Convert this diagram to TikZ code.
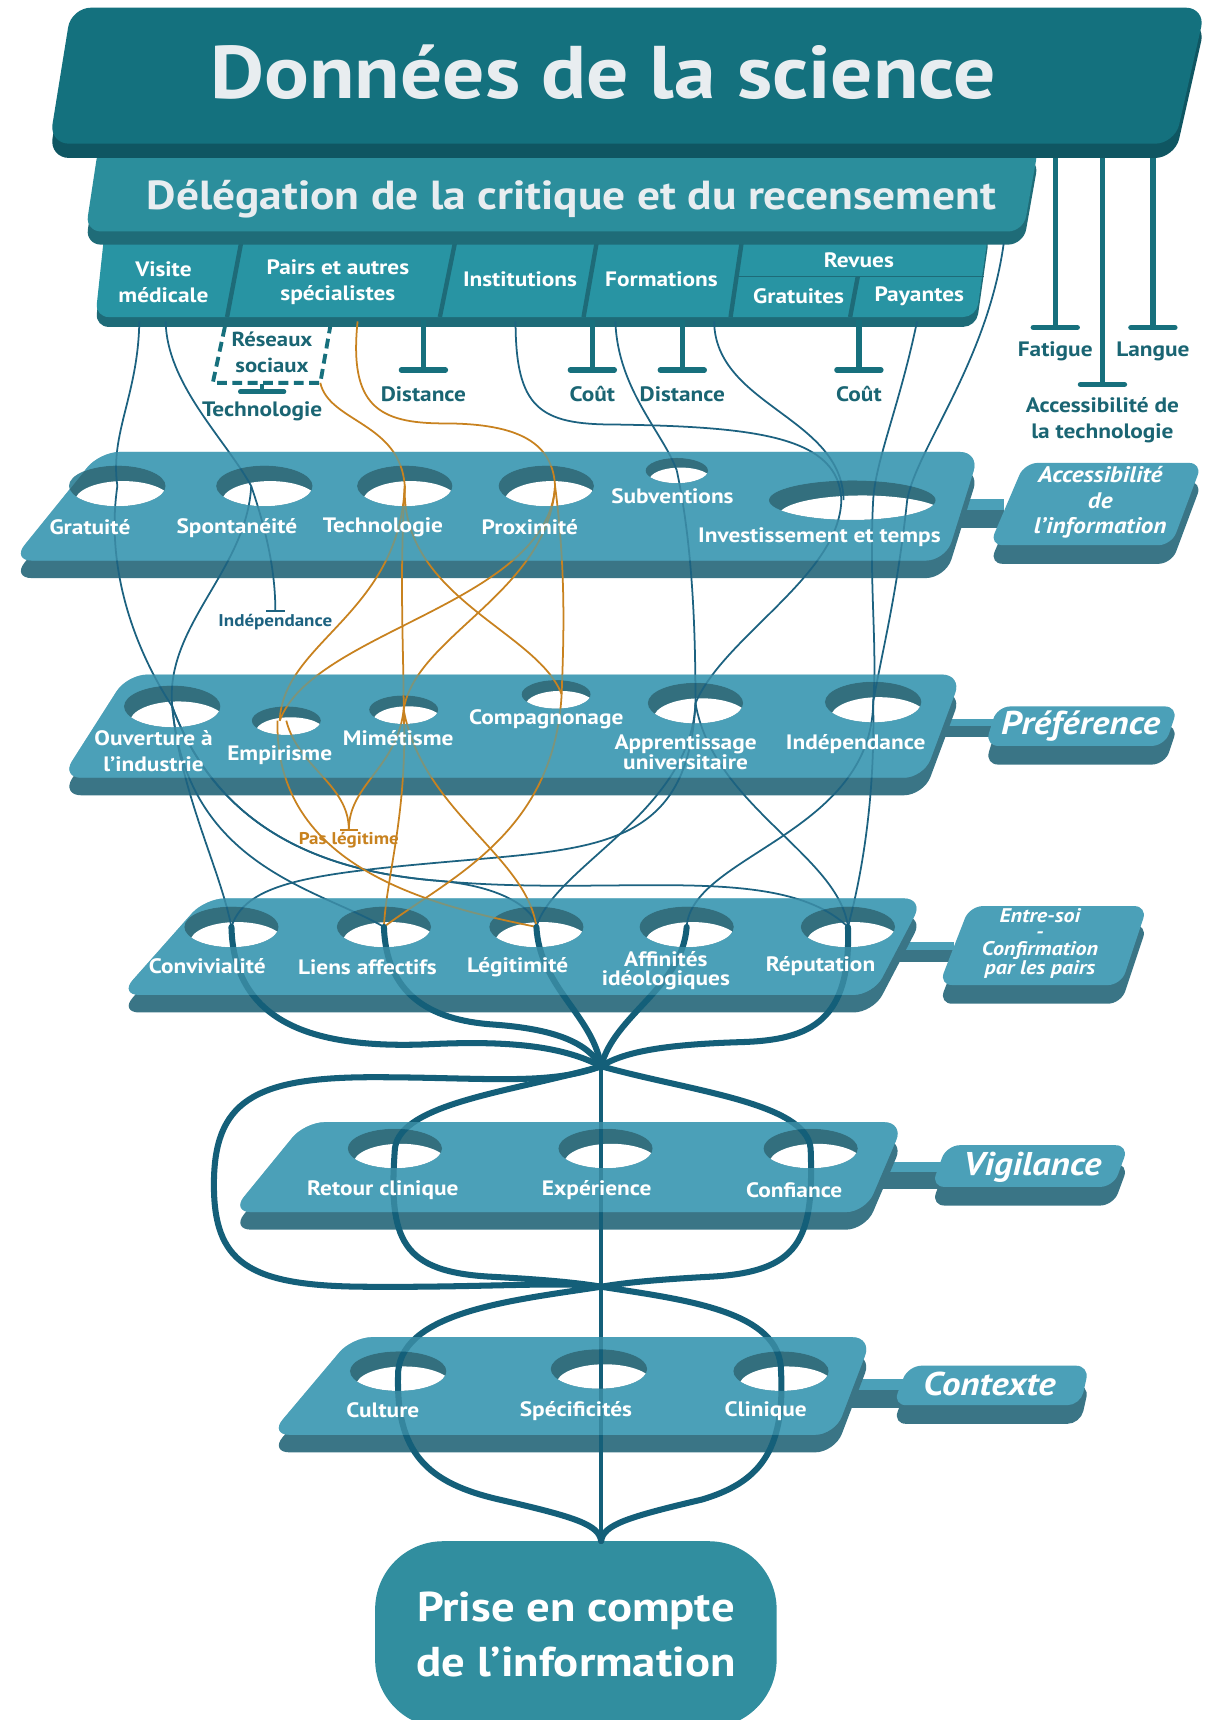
\documentclass[tikz,border=0pt]{standalone}
\usepackage{fontspec}
\setmainfont{PT Sans}[FakeStretch=1.12]
\usetikzlibrary{arrows.meta,shapes.geometric}

\definecolor{darkteal}{HTML}{14717E}
\definecolor{deepteal}{HTML}{0F5662}
\definecolor{midteal}{HTML}{2B8E9C}
\definecolor{middeep}{HTML}{1F6C78}
\definecolor{tabteal}{HTML}{2894A3}
\definecolor{tabdeep}{HTML}{1E6B78}
\definecolor{plateblue}{HTML}{4BA0B8}
\definecolor{platedark}{HTML}{3A7586}
\definecolor{holeblue}{HTML}{336F7E}
\definecolor{linkblue}{HTML}{1C6280}
\definecolor{flowblue}{HTML}{145F79}
\definecolor{amber}{HTML}{C8821F}
\definecolor{barblue}{HTML}{17707D}
\definecolor{labelblue}{HTML}{1A6573}
\definecolor{finalblue}{HTML}{318E9F}
\definecolor{offwhite}{HTML}{E8EDF0}

\tikzset{
  banner/.style={fill=darkteal, rounded corners=18pt},
  bannerbase/.style={fill=deepteal, rounded corners=18pt, yshift=-13pt},
  band/.style={fill=midteal, rounded corners=14pt},
  bandbase/.style={fill=middeep, rounded corners=14pt, yshift=-12pt},
  tabrow/.style={fill=tabteal, rounded corners=12pt},
  tabrowbase/.style={fill=tabdeep, rounded corners=12pt, yshift=-9pt},
  tabsep/.style={draw=tabdeep, line width=4pt},
  tabtext/.style={text=white, font=\bfseries\fontsize{19}{24}\selectfont, align=center, inner sep=0pt},
  plate/.style={fill=plateblue, rounded corners=18pt},
  platebase/.style={fill=platedark, rounded corners=18pt, yshift=-16pt},
  veil/.style={fill=plateblue, opacity=0.6, rounded corners=18pt, even odd rule},
  tag/.style={fill=plateblue, rounded corners=12pt},
  tagbase/.style={fill=platedark, rounded corners=12pt, yshift=-17pt},
  bridge/.style={fill=platedark},
  bridgetop/.style={fill=plateblue},
  hole/.style={ellipse, inner sep=0pt, fill=holeblue},
  platetext/.style={text=white, font=\bfseries\fontsize{19}{17}\selectfont, align=center, inner sep=0pt},
  tagtext/.style={text=white, font=\bfseries\itshape\fontsize{30}{30}\selectfont, align=center, inner sep=0pt},
  barlabel/.style={text=labelblue, font=\bfseries\fontsize{19}{24}\selectfont, align=center, inner sep=0pt},
  smalllabel/.style={font=\bfseries\fontsize{15.5}{15.5}\selectfont, inner sep=0pt},
  barrier/.style={draw=barblue, line width=5pt, -{Bar[width=40pt,round]}},
  link/.style={draw=linkblue, line width=1.6pt},
  amberlink/.style={draw=amber, line width=1.6pt},
  flow/.style={draw=flowblue, line width=5.5pt, line cap=round},
  netbox/.style={draw=barblue, line width=3.5pt, dash pattern=on 9pt off 5pt},
  final/.style={fill=finalblue, text=white, rounded corners=62pt, minimum width=366pt, minimum height=170pt, align=center, font=\bfseries\fontsize{38}{51}\selectfont}
}

\newcommand{\hole}[5]{%
  \node[hole, minimum width=#4pt, minimum height=#5pt] (#1) at (#2,#3) {};
  \begin{scope}
    \clip (#2,#3) ellipse ({#4pt/2} and {#5pt/2});
    \fill[white] (#2+0.06*#4,#3+0.38*#5) ellipse ({#4pt/2} and {#5pt/2});
  \end{scope}}

\begin{document}
\begin{tikzpicture}[x=1pt,y=-1pt]
  \useasboundingbox (0,0) rectangle (1105,1568);
  \fill[white] (0,0) rectangle (1105,1568);

  %Fatigue, langue, accessibilite de la technologie
  \coordinate (fatigue-src) at (962,138);
  \coordinate (acctech-src) at (1005,138);
  \coordinate (langue-src) at (1051,138);
  \node[barlabel] (fatigue) at (962,320) {Fatigue};
  \node[barlabel] (acctech) at (1005,383) {Accessibilité de\\la technologie};
  \node[barlabel] (langue) at (1051,320) {Langue};
  \draw[barrier] (fatigue-src) -- ([yshift=10pt]fatigue.north);
  \draw[barrier] (acctech-src) -- ([yshift=9pt]acctech.north);
  \draw[barrier] (langue-src) -- ([yshift=10pt]langue.north);

  %Onglets des sources
  \fill[tabrowbase] (96,205) -- (902,205) -- (890,289) -- (87,289) -- cycle;
  \fill[tabrow] (96,205) -- (902,205) -- (890,289) -- (87,289) -- cycle;
  \draw[tabsep] (221,215) -- (207,289);
  \draw[tabsep] (416,215) -- (401,289);
  \draw[tabsep] (545,215) -- (532,289);
  \draw[tabsep] (677,215) -- (666,289);
  \draw[tabsep] (782,252) -- (775,289);
  \draw[tabsep, line width=1.5pt] (673,252) -- (897,252);
  \node[tabtext] (visite) at (149,257) {Visite\\médicale};
  \node[tabtext] (pairs) at (308,257) {Pairs et autres\\spécialistes};
  \node[tabtext] (institutions) at (474,255) {Institutions};
  \node[tabtext] (formations) at (603,255) {Formations};
  \node[tabtext] (revues) at (783,237) {Revues};
  \node[tabtext] (gratuites) at (728,270) {Gratuites};
  \node[tabtext] (payantes) at (838,270) {Payantes};

  %Delegation
  \fill[bandbase] (90,132) -- (947,132) -- (933,211) -- (78,211) -- cycle;
  \fill[band] (90,132) -- (947,132) -- (933,211) -- (78,211) -- cycle;
  \node[text=offwhite, font=\bfseries\fontsize{37}{37}\selectfont] (delegation) at (521,182) {Délégation de la critique et du recensement};

  %Donnees de la science
  \fill[bannerbase] (65,7) -- (1099,7) -- (1071,131) -- (45,131) -- cycle;
  \fill[banner] (65,7) -- (1099,7) -- (1071,131) -- (45,131) -- cycle;
  \node[text=offwhite, font=\bfseries\fontsize{68}{68}\selectfont] (title) at (550,66) {Données de la science};

  %Freins sous les onglets
  \coordinate (distanceA-src) at (386,292);
  \coordinate (coutA-src) at (540,292);
  \coordinate (distanceB-src) at (622,292);
  \coordinate (coutB-src) at (783,292);
  \node[barlabel] (distanceA) at (386,359) {Distance};
  \node[barlabel] (coutA) at (540,359) {Coût};
  \node[barlabel] (distanceB) at (622,359) {Distance};
  \node[barlabel] (coutB) at (783,359) {Coût};
  \draw[barrier] (distanceA-src) -- ([yshift=12pt]distanceA.north);
  \draw[barrier] (coutA-src) -- ([yshift=12pt]coutA.north);
  \draw[barrier] (distanceB-src) -- ([yshift=12pt]distanceB.north);
  \draw[barrier] (coutB-src) -- ([yshift=12pt]coutB.north);

  %Reseaux sociaux
  \draw[netbox] (205,298) -- (194,349) -- (292,349) -- (301,298);
  \node[barlabel, font=\bfseries\fontsize{18.5}{24}\selectfont] (reseaux) at (248,321) {Réseaux\\sociaux};
  \coordinate (reseaux-foot) at (239,350);
  \coordinate (reseaux-corner) at (292,349);
  \node[barlabel] (techno) at (239,375) {Technologie};
  \draw[barrier, line width=4pt] (reseaux-foot) -- ([yshift=7pt]techno.north);

  %Accessibilite de l'information
  \fill[bridge] (855,455) rectangle (915,481);
  \fill[bridgetop] (855,455) rectangle (915,465);
  \fill[platebase] (91,412) -- (893,412) -- (862,511) -- (11,511) -- cycle;
  \fill[plate] (91,412) -- (893,412) -- (862,511) -- (11,511) -- cycle;
  \fill[tagbase] (934,422) -- (1096,422) -- (1068,497) -- (902,497) -- cycle;
  \fill[tag] (934,422) -- (1096,422) -- (1068,497) -- (902,497) -- cycle;
  \hole{gratuite}{107}{443}{88}{37}
  \hole{spontaneite}{241}{443}{88}{37}
  \hole{technologie}{369}{443}{87}{37}
  \hole{proximite}{498}{443}{87}{37}
  \hole{subventions}{617}{429}{57}{23}
  \hole{investissement}{777}{456}{152}{36}

  %Preference
  \fill[bridge] (835,655) rectangle (905,672);
  \fill[bridgetop] (835,655) rectangle (905,662);
  \fill[platebase] (116,615) -- (877,615) -- (842,709) -- (56,709) -- cycle;
  \fill[plate] (116,615) -- (877,615) -- (842,709) -- (56,709) -- cycle;
  \fill[tagbase] (909,644) -- (1074,644) -- (1062,680) -- (898,680) -- cycle;
  \fill[tag] (909,644) -- (1074,644) -- (1062,680) -- (898,680) -- cycle;
  \hole{ouverture}{157}{644}{88}{38}
  \hole{empirisme}{261}{657}{63}{26}
  \hole{mimetisme}{368}{647}{63}{26}
  \hole{compagnonage}{507}{633}{63}{26}
  \hole{apprentissage}{634}{641}{87}{37}
  \hole{independance}{796}{640}{88}{37}

  %Entre-soi
  \fill[bridge] (790,859) rectangle (870,877);
  \fill[bridgetop] (790,859) rectangle (870,866);
  \fill[platebase] (187,819) -- (842,819) -- (796,907) -- (109,907) -- cycle;
  \fill[plate] (187,819) -- (842,819) -- (796,907) -- (109,907) -- cycle;
  \fill[tagbase] (884,826) -- (1046,826) -- (1022,898) -- (856,898) -- cycle;
  \fill[tag] (884,826) -- (1046,826) -- (1022,898) -- (856,898) -- cycle;
  \hole{convivialite}{211}{845}{86}{37}
  \hole{liens}{350}{845}{86}{37}
  \hole{legitimite}{489}{845}{86}{37}
  \hole{affinites}{626}{845}{86}{37}
  \hole{reputation}{773}{845}{86}{37}

  %Vigilance
  \fill[bridge] (780,1059) rectangle (860,1084);
  \fill[bridgetop] (780,1059) rectangle (860,1068);
  \fill[platebase] (278,1023) -- (824,1023) -- (789,1105) -- (211,1105) -- cycle;
  \fill[plate] (278,1023) -- (824,1023) -- (789,1105) -- (211,1105) -- cycle;
  \fill[tagbase] (863,1044) -- (1029,1044) -- (1015,1082) -- (849,1082) -- cycle;
  \fill[tag] (863,1044) -- (1029,1044) -- (1015,1082) -- (849,1082) -- cycle;
  \hole{retour}{360}{1047}{86}{36}
  \hole{experience}{552}{1047}{86}{36}
  \hole{confiance}{739}{1047}{86}{36}

  %Contexte
  \fill[bridge] (755,1257) rectangle (825,1284);
  \fill[bridgetop] (755,1257) rectangle (825,1267);
  \fill[platebase] (321,1219) -- (795,1219) -- (761,1308) -- (246,1308) -- cycle;
  \fill[plate] (321,1219) -- (795,1219) -- (761,1308) -- (246,1308) -- cycle;
  \fill[tagbase] (828,1245) -- (993,1245) -- (985,1281) -- (814,1281) -- cycle;
  \fill[tag] (828,1245) -- (993,1245) -- (985,1281) -- (814,1281) -- cycle;
  \hole{culture}{363}{1250}{88}{36}
  \hole{specificites}{546}{1248}{88}{36}
  \hole{clinique}{712}{1250}{87}{36}

  %Liens depuis les onglets
  \coordinate (visite-a) at (127,293);
  \coordinate (visite-b) at (151,293);
  \coordinate (pairs-out) at (326,293);
  \coordinate (institutions-out) at (470,293);
  \coordinate (formations-a) at (561,293);
  \coordinate (formations-b) at (651,293);
  \coordinate (payantes-out) at (836,293);
  \coordinate (delegation-out) at (915,222);
  \node[smalllabel, text=linkblue] (indep) at (251,567) {Indépendance};
  \node[smalllabel, text=amber] (paslegit) at (318,766) {Pas légitime};

  \draw[link] (visite-a) .. controls (126,360) and (100,395) .. (gratuite.center);
  \draw[link] (gratuite.center) .. controls (95,525) and (128,600) .. (ouverture.center);
  \draw[link] (visite-b) .. controls (152,350) and (205,400) .. ([xshift=-12pt]spontaneite.center);
  \draw[link] ([xshift=-12pt]spontaneite.center) .. controls (225,520) and (150,570) .. (ouverture.center);
  \draw[link, -{Bar[width=17pt]}] ([xshift=-12pt]spontaneite.center) .. controls (245,490) and (251,525) .. ([yshift=2pt]indep.north);
  \draw[link] (institutions-out) .. controls (470,372) and (492,387) .. (560,387) .. controls (690,389) and (765,398) .. ([xshift=-10pt]investissement.center);
  \draw[link] ([xshift=-10pt]investissement.center) .. controls (765,525) and (660,580) .. (apprentissage.center);
  \draw[link] (formations-a) .. controls (563,355) and (605,395) .. (subventions.center);
  \draw[link] (subventions.center) .. controls (632,500) and (634,580) .. (apprentissage.center);
  \draw[link] (formations-b) .. controls (652,370) and (768,380) .. ([xshift=-8pt]investissement.center);
  \draw[link] (payantes-out) .. controls (820,370) and (798,420) .. ([xshift=19pt]investissement.center);
  \draw[link] ([xshift=19pt]investissement.center) .. controls (792,530) and (800,590) .. (independance.center);
  \draw[link] (delegation-out) .. controls (900,330) and (835,410) .. ([xshift=50pt]investissement.center);
  \draw[link] ([xshift=50pt]investissement.center) .. controls (818,540) and (805,590) .. (independance.center);

  %Liens de preference vers entre-soi
  \draw[link] (ouverture.center) .. controls (165,725) and (200,790) .. (convivialite.center);
  \draw[link] (ouverture.center) .. controls (170,790) and (290,810) .. (liens.center);
  \draw[link] (ouverture.center) .. controls (200,760) and (300,795) .. (400,803) .. controls (460,808) and (488,830) .. (legitimite.center);
  \draw[link] (ouverture.center) .. controls (200,760) and (300,795) .. (400,803) .. controls (560,818) and (710,785) .. (reputation.center);
  \draw[link] (apprentissage.center) .. controls (628,760) and (560,772) .. (450,782) .. controls (300,795) and (225,800) .. (convivialite.center);
  \draw[link] (apprentissage.center) .. controls (630,740) and (505,790) .. (legitimite.center);
  \draw[link] (apprentissage.center) .. controls (650,735) and (765,780) .. (reputation.center);
  \draw[link] (independance.center) .. controls (795,760) and (630,780) .. (affinites.center);
  \draw[link] (independance.center) .. controls (798,730) and (785,800) .. (reputation.center);

  %Liens orange
  \draw[amberlink] (reseaux-corner) .. controls (300,385) and (365,385) .. (technologie.center);
  \draw[amberlink] (pairs-out) .. controls (318,370) and (345,386) .. (405,386) .. controls (475,386) and (504,405) .. ([xshift=8pt]proximite.center);
  \draw[amberlink] (technologie.center) .. controls (364,560) and (258,585) .. ([xshift=-6pt]empirisme.center);
  \draw[amberlink] (technologie.center) .. controls (364,530) and (368,590) .. (mimetisme.center);
  \draw[amberlink] (technologie.center) .. controls (365,545) and (490,575) .. ([xshift=5pt]compagnonage.center);
  \draw[amberlink] ([xshift=8pt]proximite.center) .. controls (500,550) and (285,575) .. ([xshift=-6pt]empirisme.center);
  \draw[amberlink] ([xshift=8pt]proximite.center) .. controls (500,540) and (378,580) .. (mimetisme.center);
  \draw[amberlink] ([xshift=8pt]proximite.center) .. controls (516,520) and (514,580) .. ([xshift=5pt]compagnonage.center);
  \draw[amberlink, -{Bar[width=17pt]}] (empirisme.center) .. controls (272,700) and (318,715) .. ([yshift=1pt]paslegit.north);
  \draw[amberlink, -{Bar[width=17pt]}] (mimetisme.center) .. controls (362,700) and (318,715) .. ([yshift=1pt]paslegit.north);
  \draw[amberlink] ([xshift=-8pt]empirisme.center) .. controls (250,790) and (390,825) .. (legitimite.center);
  \draw[amberlink] (mimetisme.center) .. controls (372,740) and (352,800) .. (liens.center);
  \draw[amberlink] (mimetisme.center) .. controls (385,740) and (480,780) .. (legitimite.center);
  \draw[amberlink] ([xshift=5pt]compagnonage.center) .. controls (505,760) and (410,800) .. (liens.center);

  %Faisceau vers la prise en compte
  \coordinate (knotA) at (548,972);
  \coordinate (knotB) at (548,1173);
  \node[final] (prise) at (525,1490) {Prise en compte\\de l’information};
  \draw[flow] (convivialite.center) .. controls (213,935) and (290,956) .. (390,952) .. controls (470,948) and (515,955) .. (knotA);
  \draw[flow] (liens.center) .. controls (352,905) and (390,930) .. (450,934) .. controls (505,938) and (535,950) .. (knotA);
  \draw[flow] (legitimite.center) .. controls (492,900) and (540,925) .. (knotA);
  \draw[flow] (affinites.center) .. controls (622,900) and (560,925) .. (knotA);
  \draw[flow] (reputation.center) .. controls (776,930) and (740,948) .. (676,950) .. controls (610,952) and (570,958) .. (knotA);
  \draw[flow] (knotA) .. controls (500,990) and (440,982) .. (340,982) .. controls (230,982) and (195,1005) .. (195,1080) .. controls (195,1150) and (225,1172) .. (330,1173) .. controls (440,1174) and (510,1168) .. (knotB);
  \draw[flow] (knotA) .. controls (470,995) and (365,1005) .. (retour.center) .. controls (354,1130) and (365,1160) .. (450,1164) .. controls (505,1167) and (530,1170) .. (knotB);
  \draw[flow] (knotA) .. controls (630,995) and (735,1005) .. (confiance.center) .. controls (742,1130) and (730,1160) .. (645,1164) .. controls (590,1167) and (566,1170) .. (knotB);
  \draw[flow] (knotB) .. controls (470,1185) and (368,1195) .. (culture.center) .. controls (360,1325) and (390,1352) .. (455,1367) .. controls (525,1383) and (546,1390) .. ([xshift=23pt]prise.north);
  \draw[flow] (knotB) .. controls (625,1185) and (712,1195) .. (clinique.center) .. controls (716,1325) and (690,1352) .. (640,1367) .. controls (572,1383) and (550,1390) .. ([xshift=23pt]prise.north);
  \draw[flow, line width=3pt] (knotA) -- ([xshift=23pt]prise.north);

  %Voiles sur les plateaux
  \fill[veil] (91,412) -- (893,412) -- (862,511) -- (11,511) -- cycle
    (107,443) ellipse (44pt and 18.5pt) (241,443) ellipse (44pt and 18.5pt)
    (369,443) ellipse (43.5pt and 18.5pt) (498,443) ellipse (43.5pt and 18.5pt)
    (617,429) ellipse (28.5pt and 11.5pt) (777,456) ellipse (76pt and 18pt);
  \fill[veil] (116,615) -- (877,615) -- (842,709) -- (56,709) -- cycle
    (157,644) ellipse (44pt and 19pt) (261,657) ellipse (31.5pt and 13pt)
    (368,647) ellipse (31.5pt and 13pt) (507,633) ellipse (31.5pt and 13pt)
    (634,641) ellipse (43.5pt and 18.5pt) (796,640) ellipse (44pt and 18.5pt);
  \fill[veil] (187,819) -- (842,819) -- (796,907) -- (109,907) -- cycle
    (211,845) ellipse (43pt and 18.5pt) (350,845) ellipse (43pt and 18.5pt)
    (489,845) ellipse (43pt and 18.5pt) (626,845) ellipse (43pt and 18.5pt)
    (773,845) ellipse (43pt and 18.5pt);
  \fill[veil] (278,1023) -- (824,1023) -- (789,1105) -- (211,1105) -- cycle
    (360,1047) ellipse (43pt and 18pt) (552,1047) ellipse (43pt and 18pt)
    (739,1047) ellipse (43pt and 18pt);
  \fill[veil] (321,1219) -- (795,1219) -- (761,1308) -- (246,1308) -- cycle
    (363,1250) ellipse (44pt and 18pt) (546,1248) ellipse (44pt and 18pt)
    (712,1250) ellipse (43.5pt and 18pt);

  %Textes des plateaux
  \node[platetext] (gratuite-txt) at (82,481) {Gratuité};
  \node[platetext] (spontaneite-txt) at (216,481) {Spontanéité};
  \node[platetext] (technologie-txt) at (349,481) {Technologie};
  \node[platetext] (proximite-txt) at (483,481) {Proximité};
  \node[platetext] (subventions-txt) at (613,452) {Subventions};
  \node[platetext] (investissement-txt) at (747,490) {Investissement et temps};
  \node[platetext, font=\bfseries\fontsize{19}{24}\selectfont] (ouverture-txt) at (140,685) {Ouverture à\\l’industrie};
  \node[platetext] (empirisme-txt) at (255,688) {Empirisme};
  \node[platetext] (mimetisme-txt) at (363,673) {Mimétisme};
  \node[platetext] (compagnonage-txt) at (498,656) {Compagnonage};
  \node[platetext] (apprentissage-txt) at (625,686) {Apprentissage\\universitaire};
  \node[platetext] (independance-txt) at (780,678) {Indépendance};
  \node[platetext] (convivialite-txt) at (189,881) {Convivialité};
  \node[platetext] (liens-txt) at (335,882) {Liens affectifs};
  \node[platetext] (legitimite-txt) at (472,882) {Légitimité};
  \node[platetext] (affinites-txt) at (607,885) {Affinités\\idéologiques};
  \node[platetext] (reputation-txt) at (748,881) {Réputation};
  \node[platetext] (retour-txt) at (349,1085) {Retour clinique};
  \node[platetext] (experience-txt) at (544,1085) {Expérience};
  \node[platetext] (confiance-txt) at (724,1085) {Confiance};
  \node[platetext] (culture-txt) at (349,1286) {Culture};
  \node[platetext] (specificites-txt) at (525,1286) {Spécificités};
  \node[platetext] (clinique-txt) at (698,1286) {Clinique};

  %Etiquettes laterales
  \node[tagtext, font=\bfseries\itshape\fontsize{20.5}{23}\selectfont] (accinfo) at (1003,458) {Accessibilité\\de\\l’information};
  \node[tagtext] (preference) at (985,662) {Préférence};
  \node[tagtext, font=\bfseries\itshape\fontsize{18}{16}\selectfont] (entresoi) at (948,860) {Entre-soi\\[-1pt]-\\[-1pt]Confirmation\\par les pairs};
  \node[tagtext] (vigilance) at (941,1064) {Vigilance};
  \node[tagtext] (contexte) at (902,1262) {Contexte};
\end{tikzpicture}
\end{document}
